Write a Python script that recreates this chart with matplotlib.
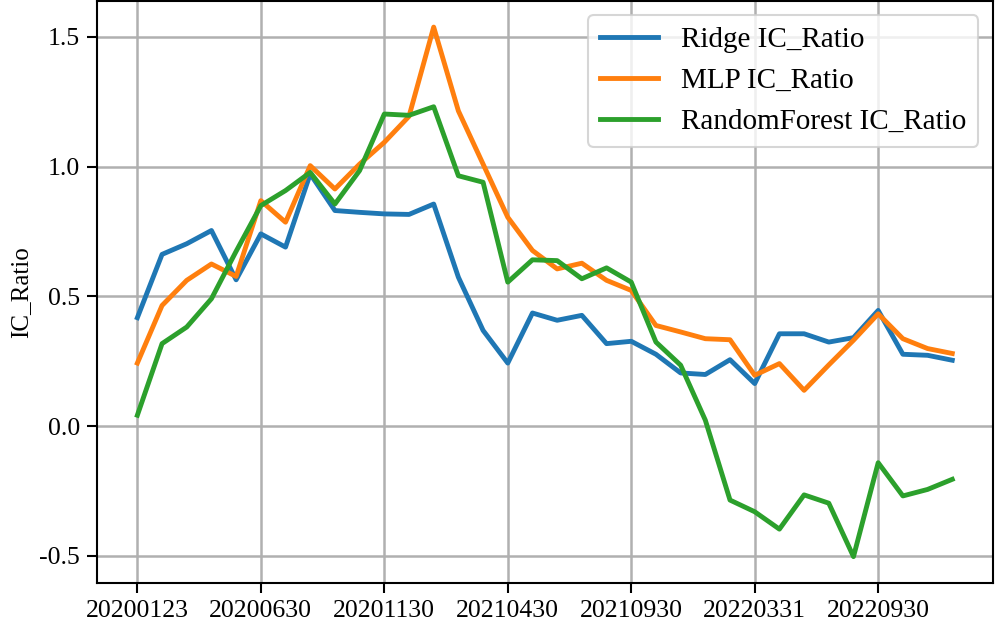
import numpy as np
import matplotlib
matplotlib.use("Agg")
import matplotlib.pyplot as plt

plt.rcParams['font.family'] = ['Liberation Serif', 'DejaVu Serif']
plt.rcParams['axes.unicode_minus'] = False

tick_labels = ["20200123", "20200630", "20201130", "20210430",
               "20210930", "20220331", "20220930"]

ridge = [0.418, 0.662, 0.703, 0.754, 0.564, 0.741, 0.690, 0.972, 0.831, 0.824,
         0.818, 0.816, 0.856, 0.574, 0.369, 0.243, 0.436, 0.408, 0.427, 0.318,
         0.327, 0.277, 0.205, 0.199, 0.256, 0.164, 0.356, 0.356, 0.324, 0.341,
         0.446, 0.277, 0.273, 0.254]
mlp = [0.243, 0.465, 0.562, 0.625, 0.577, 0.869, 0.786, 1.004, 0.914, 1.010,
       1.094, 1.194, 1.538, 1.215, 1.010, 0.805, 0.677, 0.606, 0.628, 0.562,
       0.523, 0.388, 0.363, 0.337, 0.333, 0.196, 0.241, 0.138, 0.236, 0.331,
       0.433, 0.337, 0.299, 0.280]
rf = [0.042, 0.318, 0.382, 0.491, 0.674, 0.850, 0.908, 0.978, 0.856, 0.985,
      1.203, 1.198, 1.231, 0.965, 0.940, 0.555, 0.641, 0.638, 0.568, 0.610,
      0.555, 0.324, 0.235, 0.023, -0.285, -0.330, -0.397, -0.265, -0.297, -0.503,
      -0.141, -0.269, -0.244, -0.205]

x = np.arange(len(ridge))

fig = plt.figure(figsize=(9.96, 6.27), dpi=100)
ax = fig.add_subplot(111)
fig.subplots_adjust(left=0.097, right=0.997, top=0.999, bottom=0.07)

ax.plot(x, ridge, color='#1f77b4', lw=3.5, label="Ridge IC_Ratio")
ax.plot(x, mlp, color='#ff7f0e', lw=3.5, label="MLP IC_Ratio")
ax.plot(x, rf, color='#2ca02c', lw=3.5, label="RandomForest IC_Ratio")

ax.set_xticks(x[::5])
ax.set_xticklabels(tick_labels)
ax.set_yticks([-0.5, 0.0, 0.5, 1.0, 1.5])
ax.set_ylabel("IC_Ratio", fontsize=18, labelpad=5)
ax.tick_params(labelsize=18.5, width=1.5, length=7, pad=5)
for s in ax.spines.values():
    s.set_linewidth(1.5)
ax.grid(True, color='#b0b0b0', lw=1.8)
leg = ax.legend(loc='upper right', fontsize=21, borderaxespad=0.5)
leg.get_frame().set_linewidth(1.5)

plt.savefig("out.png", dpi=100)
